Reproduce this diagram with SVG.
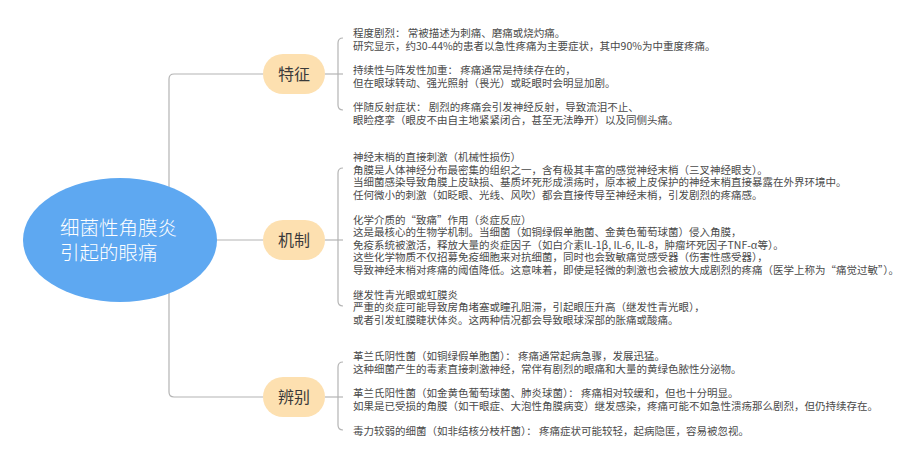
<svg xmlns="http://www.w3.org/2000/svg" width="900" height="462" viewBox="0 0 900 462">
<style>
.bg{fill:#ffffff}
.ln{fill:none;stroke:#b4b4b4;stroke-width:1.2}
.root{fill:#5ea8f1}
.rootTxt{font-family:"Noto Sans CJK SC","Noto Sans",sans-serif;font-size:19.5px;fill:#ffffff;font-weight:300}
.pill{fill:#fde0b0}
.pillTxt{font-family:"Noto Sans CJK SC","Noto Sans",sans-serif;font-size:16px;fill:#3a3a3a;text-anchor:middle}
.t{font-family:"Noto Sans CJK SC","Noto Sans",sans-serif;font-size:10.5px;fill:#4a4a4a}
</style>
<rect class="bg" x="0" y="0" width="900" height="462"/>
<g id="connectors">
  <path class="ln" d="M169,240 L169,79 Q169,74 174,74 L263,74"/>
  <path class="ln" d="M169,240 L169,392 Q169,397 174,397 L263,397"/>
  <path class="ln" d="M210,240 L263,240"/>
  <path class="ln" d="M325,74 L343,74"/>
  <path class="ln" d="M343,38 Q338,38 338,43 L338,105 Q338,110 343,110"/>
  <path class="ln" d="M325,240 L343,240"/>
  <path class="ln" d="M343,168 Q338,168 338,173 L338,301 Q338,306 343,306"/>
  <path class="ln" d="M325,397 L343,397"/>
  <path class="ln" d="M343,362 Q338,362 338,367 L338,425 Q338,430 343,430"/>
</g>
<g id="root">
  <ellipse class="root" cx="120" cy="240" rx="97" ry="62"/>
  <text class="rootTxt" x="60" y="235">细菌性角膜炎</text>
  <text class="rootTxt" x="60" y="260">引起的眼痛</text>
</g>
<g id="node-tezheng">
  <rect class="pill" x="263" y="54" width="62" height="40" rx="20"/>
  <text class="pillTxt" x="294" y="80">特征</text>
</g>
<g id="node-jizhi">
  <rect class="pill" x="263" y="220" width="62" height="40" rx="20"/>
  <text class="pillTxt" x="294" y="246">机制</text>
</g>
<g id="node-bianbie">
  <rect class="pill" x="263" y="377" width="62" height="40" rx="20"/>
  <text class="pillTxt" x="294" y="403">辨别</text>
</g>
<g id="tezheng-details">
  <text class="t" x="353" y="37">程度剧烈： 常被描述为刺痛、磨痛或烧灼痛。</text>
  <text class="t" x="353" y="49.5">研究显示，约30-44%的患者以急性疼痛为主要症状，其中90%为中重度疼痛。</text>
  <text class="t" x="353" y="74">持续性与阵发性加重： 疼痛通常是持续存在的，</text>
  <text class="t" x="353" y="86.5">但在眼球转动、强光照射（畏光）或眨眼时会明显加剧。</text>
  <text class="t" x="353" y="111">伴随反射症状： 剧烈的疼痛会引发神经反射，导致流泪不止、</text>
  <text class="t" x="353" y="123.5">眼睑痉挛（眼皮不由自主地紧紧闭合，甚至无法睁开）以及同侧头痛。</text>
</g>
<g id="jizhi-details">
  <text class="t" x="353" y="161">神经末梢的直接刺激（机械性损伤）</text>
  <text class="t" x="353" y="173.5">角膜是人体神经分布最密集的组织之一，含有极其丰富的感觉神经末梢（三叉神经眼支）。</text>
  <text class="t" x="353" y="186">当细菌感染导致角膜上皮缺损、基质坏死形成溃疡时，原本被上皮保护的神经末梢直接暴露在外界环境中。</text>
  <text class="t" x="353" y="198.5">任何微小的刺激（如眨眼、光线、风吹）都会直接传导至神经末梢，引发剧烈的疼痛感。</text>
  <text class="t" x="353" y="223.5">化学介质的“致痛”作用（炎症反应）</text>
  <text class="t" x="353" y="236">这是最核心的生物学机制。当细菌（如铜绿假单胞菌、金黄色葡萄球菌）侵入角膜，</text>
  <text class="t" x="353" y="248.5">免疫系统被激活，释放大量的炎症因子（如白介素IL-1β, IL-6, IL-8，肿瘤坏死因子TNF-α等）。</text>
  <text class="t" x="353" y="261">这些化学物质不仅招募免疫细胞来对抗细菌，同时也会致敏痛觉感受器（伤害性感受器），</text>
  <text class="t" x="353" y="273.5">导致神经末梢对疼痛的阈值降低。这意味着，即使是轻微的刺激也会被放大成剧烈的疼痛（医学上称为“痛觉过敏”）。</text>
  <text class="t" x="353" y="298.5">继发性青光眼或虹膜炎</text>
  <text class="t" x="353" y="311">严重的炎症可能导致房角堵塞或瞳孔阻滞，引起眼压升高（继发性青光眼），</text>
  <text class="t" x="353" y="323.5">或者引发虹膜睫状体炎。这两种情况都会导致眼球深部的胀痛或酸痛。</text>
</g>
<g id="bianbie-details">
  <text class="t" x="353" y="360">革兰氏阴性菌（如铜绿假单胞菌）： 疼痛通常起病急骤，发展迅猛。</text>
  <text class="t" x="353" y="373">这种细菌产生的毒素直接刺激神经，常伴有剧烈的眼痛和大量的黄绿色脓性分泌物。</text>
  <text class="t" x="353" y="397">革兰氏阳性菌（如金黄色葡萄球菌、肺炎球菌）： 疼痛相对较缓和，但也十分明显。</text>
  <text class="t" x="353" y="410">如果是已受损的角膜（如干眼症、大泡性角膜病变）继发感染，疼痛可能不如急性溃疡那么剧烈，但仍持续存在。</text>
  <text class="t" x="353" y="435">毒力较弱的细菌（如非结核分枝杆菌）： 疼痛症状可能较轻，起病隐匿，容易被忽视。</text>
</g>
</svg>
